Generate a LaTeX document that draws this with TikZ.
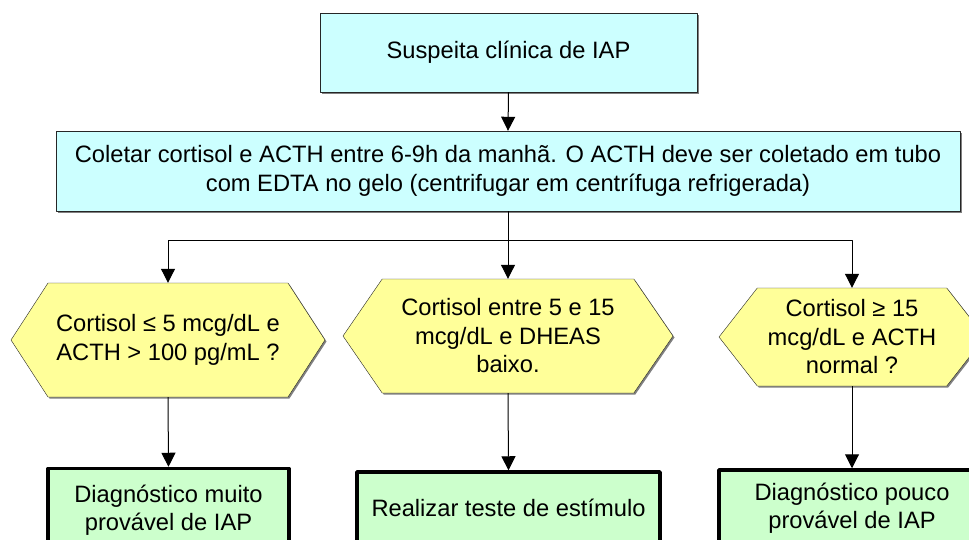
\documentclass[tikz,border=0pt]{standalone}
\usepackage{fontspec}
\setmainfont{Liberation Sans}
\usetikzlibrary{shapes.symbols,arrows.meta,shadows}
\definecolor{azulclaro}{RGB}{204,255,255}
\definecolor{amareloclaro}{RGB}{255,255,153}
\definecolor{verdeclaro}{RGB}{204,255,204}
\tikzset{t/.style={font=\fontsize{23.7}{28.5}\selectfont, align=center, inner sep=0pt}}
\tikzset{sombra/.style={drop shadow={shadow xshift=1.5pt, shadow yshift=-1.5pt, fill=gray, opacity=1}}}
\tikzset{azul/.style={t, sombra, draw=black!85, fill=azulclaro, rectangle}}
\tikzset{amarelo/.style={t, sombra, draw=black!85, fill=amareloclaro, signal, signal to=east and west}}
\tikzset{verde/.style={t, draw=black, line width=3.5pt, fill=verdeclaro, rectangle}}
\tikzset{seta/.style={-{Triangle[length=14pt, width=14pt]}, draw=black, line width=1pt}}

\begin{document}
\begin{tikzpicture}[x=1pt, y=-1pt, line join=round]
  \useasboundingbox (0,0) rectangle (969,539);
  \clip (0,0) rectangle (969,539);
  \node[azul, minimum width=377pt, minimum height=79pt] (susp) at (508.5,52.5) {Suspeita clínica de IAP};
  \node[azul, minimum width=904pt, minimum height=80pt] (coleta) at (508,171) {Coletar cortisol e ACTH entre 6-9h da manhã. O ACTH deve ser coletado em tubo\\com EDTA no gelo (centrifugar em centrífuga refrigerada)};
  \node[amarelo, minimum width=314pt, minimum height=114pt, signal pointer angle=114] (crit1) at (168,340) {Cortisol ≤ 5 mcg/dL e\\ACTH > 100 pg/mL ?};
  \node[amarelo, minimum width=330pt, minimum height=114pt, signal pointer angle=111] (crit2) at (508,336) {Cortisol entre 5 e 15\\mcg/dL e DHEAS\\baixo.};
  \node[amarelo, minimum width=266pt, minimum height=98pt, signal pointer angle=104] (crit3) at (852,337) {Cortisol ≥ 15\\mcg/dL e ACTH\\normal ?};
  \node[verde, minimum width=241pt, minimum height=83pt] (res1) at (168.5,510) {Diagnóstico muito\\provável de IAP};
  \node[verde, minimum width=303pt, minimum height=72pt] (res2) at (508.5,508) {Realizar teste de estímulo};
  \node[verde, minimum width=266pt, minimum height=76pt] (res3) at (852,508) {Diagnóstico pouco\\provável de IAP};
  \coordinate (ramo) at (508,240);
  % ligacoes
  \draw[seta] (susp.south) -- (coleta.north);
  \draw[seta] (coleta.south) -- (crit2.north);
  \draw[seta] (ramo) -| (crit1.north);
  \draw[seta] (ramo) -| (crit3.north);
  \draw[seta] (crit1.south) -- (res1.north);
  \draw[seta] (crit2.south) -- (res2.north);
  \draw[seta] (crit3.south) -- (res3.north);
\end{tikzpicture}
\end{document}
